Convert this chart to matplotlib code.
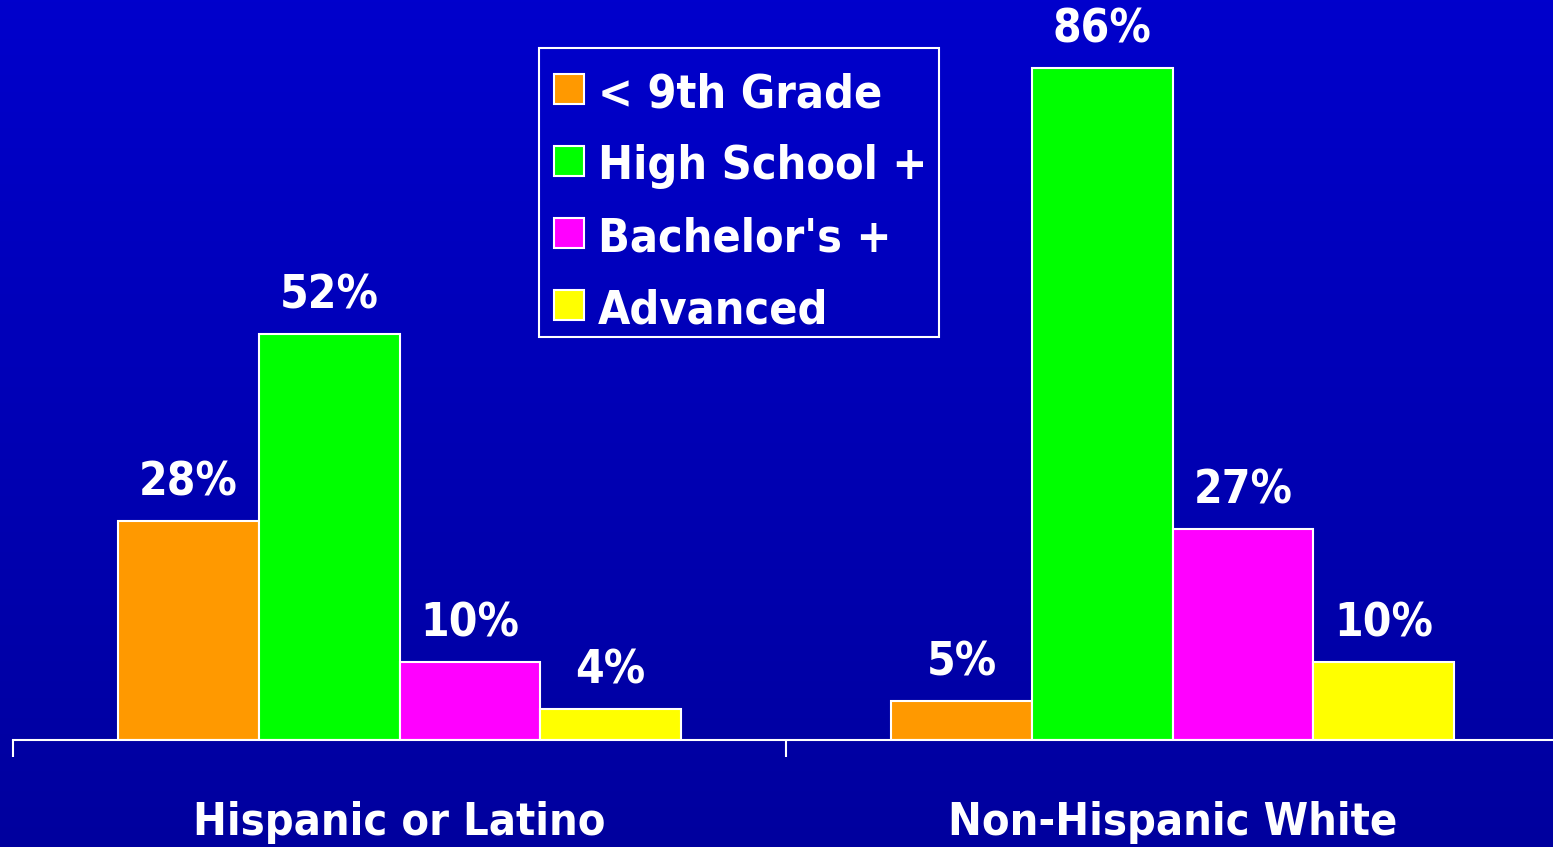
import matplotlib
matplotlib.use("Agg")
import matplotlib.pyplot as plt
from matplotlib.patches import Rectangle
import numpy as np

groups = ["Hispanic or Latino", "Non-Hispanic White"]
levels = ["< 9th Grade", "High School +", "Bachelor's +", "Advanced"]
values = {
    "< 9th Grade": [28, 5],
    "High School +": [52, 86],
    "Bachelor's +": [10, 27],
    "Advanced": [4, 10],
}
colors = ["#ff9900", "#00ff00", "#ff00ff", "#ffff00"]

plt.rcParams['font.family'] = ['DejaVu Sans']
font = dict(weight="bold", stretch="condensed", color="white")

W, H = 1553, 847
fig = plt.figure(figsize=(W / 100, H / 100), dpi=100)

# background gradient
bg = fig.add_axes([0, 0, 1, 1], zorder=-1)
grad = np.linspace(0, 1, 256).reshape(-1, 1)
top = np.array([0, 0, 204]) / 255
bot = np.array([0, 0, 158]) / 255
img = top + (bot - top) * grad[..., None]
bg.imshow(img, aspect="auto", extent=[0, 1, 0, 1])
bg.axis("off")

# main axes: x from 13 px to ~1559 px, bottom at y=740
left = 13 / W
width = (1559 - 13) / W
bottom = (H - 740) / H
ax = fig.add_axes([left, bottom, width, 1 - bottom])
ax.patch.set_alpha(0)

x = np.arange(len(groups))
bw = 0.182
for i, (lev, c) in enumerate(zip(levels, colors)):
    pos = x + (i - 1.5) * bw
    ax.bar(pos, values[lev], bw, color=c, edgecolor="white", linewidth=1.5)
    for xp, v in zip(pos, values[lev]):
        ax.annotate(f"{v}%", (xp, v), xytext=(0, 11), textcoords="offset points",
                    ha="center", va="bottom", fontsize=33, **font)

ax.set_xlim(-0.5, 1.5)
ax.set_ylim(0, 740 / 7.814)

for s in ["top", "right", "left"]:
    ax.spines[s].set_visible(False)
ax.spines["bottom"].set_color("white")
ax.spines["bottom"].set_linewidth(1.5)
ax.set_yticks([])
ax.set_xticks(x)
ax.set_xticklabels(groups, fontsize=32.3, **font)
ax.tick_params(axis="x", which="major", length=0, pad=44)
ax.set_xticks([-0.5, 0.5, 1.5], minor=True)
ax.tick_params(axis="x", which="minor", length=12, width=1.5, color="white",
               direction="out")

# legend box, drawn by hand in figure pixels (origin top-left)
def fx(px):
    return px / W

def fy(py):
    return 1 - py / H

fig.add_artist(Rectangle((fx(539), fy(337)), fx(939) - fx(539), fy(48) - fy(337),
                         transform=fig.transFigure, fill=False,
                         edgecolor="white", linewidth=1.5))
for i, (lev, c) in enumerate(zip(levels, colors)):
    yc = 89 + 72 * i
    fig.add_artist(Rectangle((fx(554), fy(yc + 15)), fx(584) - fx(554), 30 / H,
                             transform=fig.transFigure, facecolor=c,
                             edgecolor="white", linewidth=1.5))
    fig.text(fx(598), fy(yc + 18), lev, transform=fig.transFigure,
             ha="left", va="baseline", fontsize=33.5, **font)

fig.savefig("out.png", dpi=100)
